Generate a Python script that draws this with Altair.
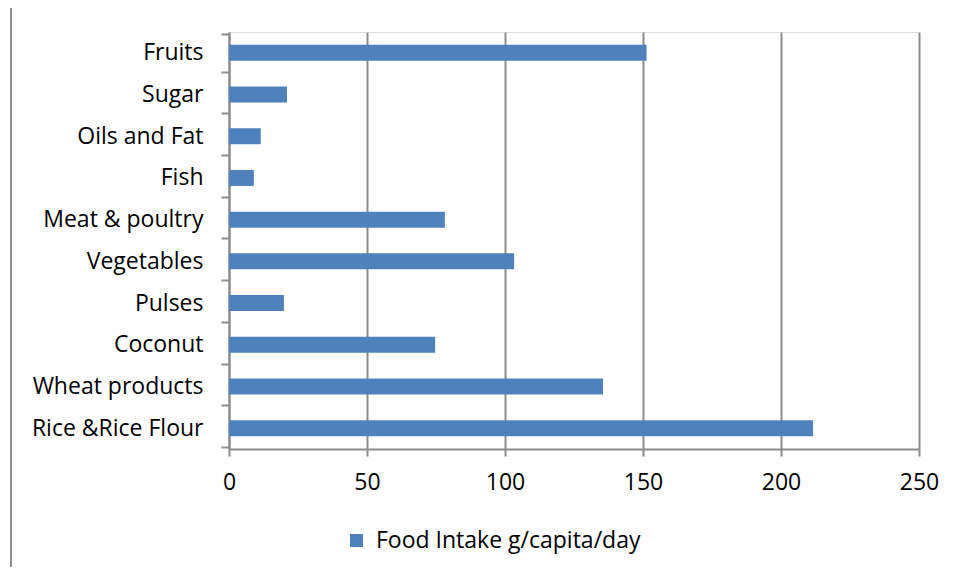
import altair as alt
import pandas as pd

categories = ["Fruits", "Sugar", "Oils and Fat", "Fish", "Meat & poultry",
              "Vegetables", "Pulses", "Coconut", "Wheat products", "Rice &Rice Flour"]
values = [151.3, 21.0, 11.5, 9.0, 78.2, 103.3, 19.9, 74.7, 135.5, 211.6]
series = ["Food Intake g/capita/day"] * len(categories)
x_ticks = [0, 50, 100, 150, 200, 250]

df = pd.DataFrame({"cat": categories, "val": values, "series": series})

FONT = "Open Sans"
FS = 23
GRAY = "#8c8c8c"

bars = alt.Chart(df).mark_bar(size=16, color="#4F81BD").encode(
    y=alt.Y("cat:N", sort=categories, title=None,
            axis=alt.Axis(tickBand="extent", tickSize=8, tickColor=GRAY, tickWidth=2,
                          domainColor=GRAY, domainWidth=2, labelFont=FONT,
                          labelFontSize=FS, labelColor="#000000", labelPadding=18,
                          grid=False, labelLimit=400)),
    x=alt.X("val:Q", title=None, scale=alt.Scale(domain=[0, 250], nice=False),
            axis=alt.Axis(values=x_ticks, tickSize=7, tickColor=GRAY, tickWidth=2,
                          domainColor=GRAY, domainWidth=2, gridColor=GRAY, gridWidth=2,
                          gridOpacity=1, labelFont=FONT, labelFontSize=FS, labelFlush=False,
                          labelColor="#000000", labelPadding=15)),
    color=alt.Color("series:N", scale=alt.Scale(range=["#4F81BD"]),
                    legend=alt.Legend(title=None, orient="none", legendX=116, legendY=497,
                                      symbolType="square", symbolSize=170, symbolStrokeWidth=0,
                                      labelFont=FONT, labelFontSize=FS, labelColor="#000000",
                                      labelLimit=400, labelOffset=8)),
)

frame = alt.Chart(df).mark_rule(color="#909090", strokeWidth=2).encode(
    x=alt.value(-218), y=alt.value(-24), y2=alt.value(417 + 118)
)

chart = alt.layer(frame, bars).properties(
    width=690, height=417,
    autosize=alt.AutoSizeParams(type="none"),
    padding={"left": 221, "top": 24, "right": 34, "bottom": 118},
).configure_view(stroke=None).configure(background="white")

chart.save("out.html", embed_options={"renderer": "svg", "actions": False})
